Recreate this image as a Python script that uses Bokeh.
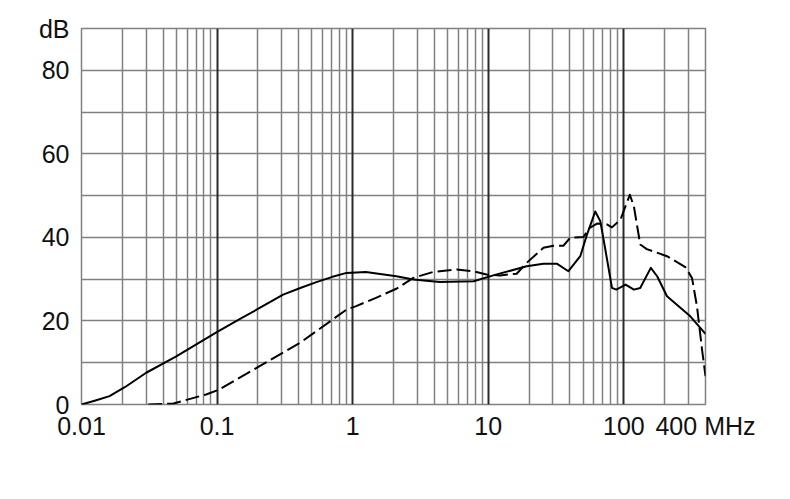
from bokeh.plotting import figure
from bokeh.models import Range1d, FixedTicker, Grid
from bokeh.embed import file_html
from bokeh.resources import INLINE

# ---- data ----
solid_f = [0.01, 0.0125, 0.0161, 0.021, 0.030, 0.05, 0.0995, 0.15, 0.206, 0.307, 0.42, 0.54,
           0.70, 0.90, 1.25, 2.1, 2.8, 4.4,
           7.8, 10.9, 19.2, 25.5, 32, 39, 47.7, 53, 61.5, 67, 73, 81.7, 88, 103,
           118.6, 132, 158, 176, 208, 246, 309, 400]
solid_db = [0.0, 0.9, 2.0, 4.2, 7.6, 11.5, 17.3, 20.6, 23.1, 26.3, 28.0, 29.3,
            30.5, 31.5, 31.7, 30.7, 29.9, 29.3,
            29.5, 30.9, 33.1, 33.7, 33.7, 31.9, 35.5, 40.3, 46.2, 43.9, 37.1, 27.9, 27.5, 28.7,
            27.5, 27.9, 32.7, 30.7, 25.9, 23.9, 21.1, 16.9]

dashed_f = [0.031, 0.047, 0.083, 0.104, 0.206, 0.41, 0.90, 1.05, 1.5, 2.1, 2.8, 3.9, 5.85,
            7.8, 9.7, 12.2, 16.2, 19.2, 25.5, 30.2, 35.8, 40.2, 50.3, 56, 63.4, 75,
            81.7, 94.5, 110.7, 118.6, 132, 147.6, 208, 284, 318, 346, 377, 400]
dashed_db = [0.0, 0.2, 2.4, 3.6, 9.2, 14.8, 22.7, 23.5, 25.6, 27.7, 30.3, 31.7, 32.3,
             31.9, 31.1, 30.9, 31.3, 33.9, 37.5, 38.0, 38.0, 39.9, 40.1, 42.3, 43.3, 43.1,
             42.4, 44.3, 50.2, 47.4, 38.3, 37.2, 35.5, 32.9, 30.3, 23.5, 13.2, 6.8]

x_ticks = [0.01, 0.1, 1, 10, 100, 400]
x_labels = ["0.01", "0.1", "1", "10", "100", "400 MHz"]
y_ticks = [0, 20, 40, 60, 80, 90]
y_labels = ["0", "20", "40", "60", "80", "dB"]

decades = [0.01, 0.1, 1, 10, 100]
minor_x = [m * d for d in [0.01, 0.1, 1, 10] for m in range(2, 10)] + [200, 300]
minor_y = [10, 20, 30, 40, 50, 60, 70, 80]

FONT = "Liberation Sans"

p = figure(x_axis_type="log", x_range=Range1d(0.01, 400), y_range=Range1d(0, 90),
           frame_width=624, frame_height=376, output_backend="svg",
           toolbar_location=None, min_border_left=81, min_border_top=28,
           min_border_right=60, min_border_bottom=50)

p.xgrid.visible = False
p.ygrid.visible = False
p.outline_line_color = "#808080"
p.outline_line_width = 1.5

p.add_layout(Grid(dimension=0, ticker=FixedTicker(ticks=minor_x),
                  grid_line_color="#808080", grid_line_width=1.5))
p.add_layout(Grid(dimension=1, ticker=FixedTicker(ticks=minor_y),
                  grid_line_color="#808080", grid_line_width=1.5))
p.add_layout(Grid(dimension=0, ticker=FixedTicker(ticks=decades),
                  grid_line_color="#2a2a2a", grid_line_width=2))

p.line(solid_f, solid_db, line_color="black", line_width=2, line_join="round")
p.line(dashed_f, dashed_db, line_color="black", line_width=2, line_dash="14 5",
       line_join="round")

for ax in (p.xaxis[0], p.yaxis[0]):
    ax.axis_line_color = None
    ax.major_tick_line_color = None
    ax.minor_tick_line_color = None
    ax.major_tick_out = 0
    ax.major_tick_in = 0
    ax.minor_tick_out = 0
    ax.major_label_text_font = FONT
    ax.major_label_text_font_size = "25px"
    ax.major_label_text_color = "#111111"

p.xaxis[0].ticker = FixedTicker(ticks=x_ticks)
p.xaxis[0].major_label_overrides = {t: l for t, l in zip(x_ticks, x_labels)}
p.xaxis[0].major_label_standoff = 7
p.yaxis[0].ticker = FixedTicker(ticks=y_ticks)
p.yaxis[0].major_label_overrides = {t: l for t, l in zip(y_ticks, y_labels)}
p.yaxis[0].major_label_standoff = 12

open("out.html", "w").write(file_html(p, INLINE))
